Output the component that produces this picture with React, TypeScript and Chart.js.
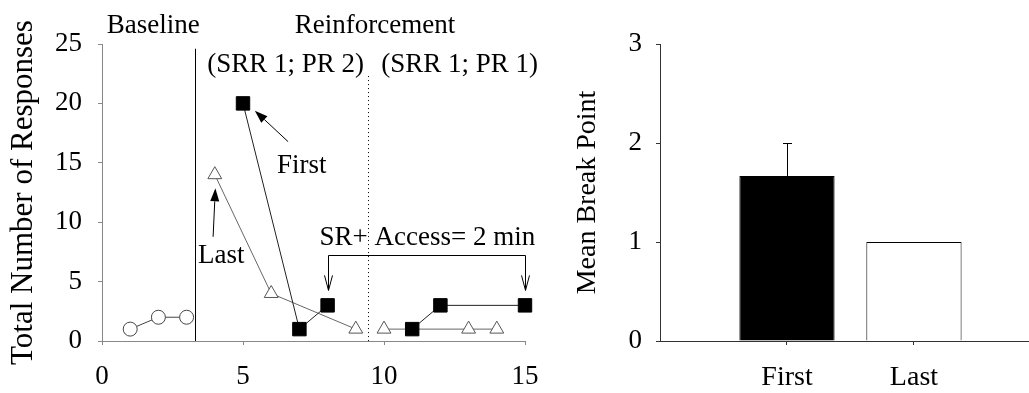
import React, { useEffect, useRef } from "react";
import { Chart, registerables } from "chart.js";

Chart.register(...registerables);

const FONT = "'Liberation Serif', 'Times New Roman', serif";

// ---- Left panel data ----
const xTickValues = [0, 5, 10, 15];
const yTickValues = [0, 5, 10, 15, 20, 25];
const baselineSessions = [1, 2, 3];
const baselineResponses = [1, 2, 2];
const firstSessions = [5, 7, 8, 11, 12, 15];
const firstResponses = [20, 1, 3, 1, 3, 3];
const lastSessions = [4, 6, 9, 10, 13, 14];
const lastResponses = [14, 4, 1, 1, 1, 1];
const phaseBaselineEnd = 3.31;
const phasePR2End = 9.44;

// ---- Right panel data ----
const barCategories = ["First", "Last"];
const barMeans = [1.667, 1.0];
const barErrors = [0.333, 0];
const barFill = ["#000000", "#ffffff"];
const barTickValues = [0, 1, 2, 3];

function pts(xs: number[], ys: number[], lo: number, hi: number) {
  return xs
    .map((x, i) => ({ x, y: ys[i] }))
    .filter((p) => p.x > lo && p.x < hi);
}

function filledArrow(ctx: CanvasRenderingContext2D, x1: number, y1: number, x2: number, y2: number) {
  const ang = Math.atan2(y2 - y1, x2 - x1);
  const head = 13;
  const hw = 4.5;
  const bx = x2 - head * Math.cos(ang);
  const by = y2 - head * Math.sin(ang);
  ctx.beginPath();
  ctx.moveTo(x1, y1);
  ctx.lineTo(bx, by);
  ctx.stroke();
  ctx.beginPath();
  ctx.moveTo(x2, y2);
  ctx.lineTo(bx + hw * Math.sin(ang), by - hw * Math.cos(ang));
  ctx.lineTo(bx - hw * Math.sin(ang), by + hw * Math.cos(ang));
  ctx.closePath();
  ctx.fill();
}

function openDownArrow(ctx: CanvasRenderingContext2D, x: number, y: number) {
  ctx.beginPath();
  ctx.moveTo(x - 4, y - 15);
  ctx.lineTo(x, y);
  ctx.lineTo(x + 4, y - 15);
  ctx.stroke();
}

const leftAnnotations = {
  id: "leftAnnotations",
  beforeDatasetsDraw(chart: any) {
    const { ctx, scales, chartArea } = chart;
    const x = scales.x;
    const y = scales.y;
    ctx.save();
    ctx.strokeStyle = "#000";
    ctx.lineWidth = 1;
    const sx = Math.round(x.getPixelForValue(phaseBaselineEnd)) + 0.5;
    ctx.beginPath();
    ctx.moveTo(sx, y.getPixelForValue(24.6));
    ctx.lineTo(sx, chartArea.bottom);
    ctx.stroke();
    const dx = Math.round(x.getPixelForValue(phasePR2End)) + 0.5;
    ctx.setLineDash([1, 3]);
    ctx.beginPath();
    ctx.moveTo(dx, y.getPixelForValue(22.3));
    ctx.lineTo(dx, chartArea.bottom);
    ctx.stroke();
    ctx.restore();
  },
  afterDatasetsDraw(chart: any) {
    const { ctx, scales, chartArea } = chart;
    const x = scales.x;
    const y = scales.y;
    const X = (v: number) => x.getPixelForValue(v);
    const Y = (v: number) => y.getPixelForValue(v);
    ctx.save();
    ctx.fillStyle = "#000";
    ctx.strokeStyle = "#000";
    ctx.lineWidth = 1;
    ctx.textAlign = "center";
    ctx.textBaseline = "alphabetic";
    ctx.font = `27px ${FONT}`;
    ctx.fillText("Baseline", X(1.82), chartArea.top - 11);
    ctx.fillText("Reinforcement", X(9.68), chartArea.top - 11);
    ctx.fillText("(SRR 1; PR 2)", X(6.51), chartArea.top + 28);
    ctx.fillText("(SRR 1; PR 1)", X(12.68), chartArea.top + 28);
    ctx.fillText("First", X(7.08), Y(14.13));
    ctx.fillText("Last", X(4.23), Y(6.58));
    ctx.fillText("SR+ Access= 2 min", X(11.54), Y(8.07));

    filledArrow(ctx, X(6.6), Y(16.78), X(5.42), Y(19.39));
    filledArrow(ctx, X(3.94), Y(8.77), X(4.02), Y(12.85));

    // bracket
    const by = Math.round(Y(7.23)) + 0.5;
    const bx1 = Math.round(X(8)) + 0.5;
    const bx2 = Math.round(X(15)) + 0.5;
    const tipY = Y(4.26);
    ctx.beginPath();
    ctx.moveTo(bx1, tipY);
    ctx.lineTo(bx1, by);
    ctx.lineTo(bx2, by);
    ctx.lineTo(bx2, tipY);
    ctx.stroke();
    openDownArrow(ctx, bx1, tipY);
    openDownArrow(ctx, bx2, tipY);
    ctx.restore();
  },
};

const errorBars = {
  id: "errorBars",
  afterDatasetsDraw(chart: any) {
    const { ctx, scales } = chart;
    const meta = chart.getDatasetMeta(0);
    ctx.save();
    ctx.strokeStyle = "#000";
    ctx.lineWidth = 1;
    meta.data.forEach((bar: any, i: number) => {
      if (!barErrors[i]) return;
      const cx = Math.round(bar.x) + 0.5;
      const top = Math.round(scales.y.getPixelForValue(barMeans[i] + barErrors[i])) + 0.5;
      ctx.beginPath();
      ctx.moveTo(cx, bar.y);
      ctx.lineTo(cx, top);
      ctx.moveTo(cx - 4.5, top);
      ctx.lineTo(cx + 4.5, top);
      ctx.stroke();
    });
    ctx.restore();
  },
};

export default function App() {
  const leftRef = useRef<HTMLCanvasElement>(null);
  const rightRef = useRef<HTMLCanvasElement>(null);

  useEffect(() => {
    const firstStyle = {
      pointStyle: "rect",
      pointRadius: 9.5,
      pointHoverRadius: 9.5,
      pointBackgroundColor: "#000",
      pointBorderColor: "#000",
      pointBorderWidth: 1,
      borderColor: "#222",
      borderWidth: 1,
      showLine: true,
      clip: false,
    };
    const lastStyle = {
      pointStyle: "triangle",
      pointRadius: 8,
      pointHoverRadius: 8,
      pointBackgroundColor: "#fff",
      pointBorderColor: "#555",
      pointBorderWidth: 1,
      borderColor: "#666",
      borderWidth: 1,
      showLine: true,
      clip: false,
    };
    const baseStyle = {
      pointStyle: "circle",
      pointRadius: 7,
      pointHoverRadius: 7,
      pointBackgroundColor: "#fff",
      pointBorderColor: "#444",
      pointBorderWidth: 1,
      borderColor: "#444",
      borderWidth: 1,
      showLine: true,
      clip: false,
    };

    const axisColor = "#888";
    const left = new Chart(leftRef.current!, {
      type: "scatter",
      data: {
        datasets: [
          { label: "First (PR 2)", data: pts(firstSessions, firstResponses, phaseBaselineEnd, phasePR2End), ...firstStyle },
          { label: "First (PR 1)", data: pts(firstSessions, firstResponses, phasePR2End, Infinity), ...firstStyle },
          { label: "Last (PR 2)", data: pts(lastSessions, lastResponses, phaseBaselineEnd, phasePR2End), ...lastStyle },
          { label: "Last (PR 1)", data: pts(lastSessions, lastResponses, phasePR2End, Infinity), ...lastStyle },
          { label: "Baseline", data: pts(baselineSessions, baselineResponses, -Infinity, phaseBaselineEnd), ...baseStyle },
        ] as any,
      },
      options: {
        responsive: false,
        animation: false,
        layout: { padding: { top: 44, right: 35, left: 0, bottom: 0 } },
        plugins: { legend: { display: false }, tooltip: { enabled: false } },
        scales: {
          x: {
            type: "linear",
            min: 0,
            max: 15,
            afterBuildTicks: (s: any) => {
              s.ticks = xTickValues.map((v) => ({ value: v }));
            },
            afterFit: (s: any) => {
              s.height = 52;
            },
            grid: { drawOnChartArea: false, drawTicks: true, tickLength: 4, color: axisColor },
            border: { color: axisColor, width: 1 },
            ticks: { font: { family: FONT, size: 27 }, color: "#000", padding: 16, maxRotation: 0 },
          },
          y: {
            type: "linear",
            min: 0,
            max: 25,
            afterBuildTicks: (s: any) => {
              s.ticks = yTickValues.map((v) => ({ value: v }));
            },
            afterFit: (s: any) => {
              s.width = 102;
            },
            grid: { drawOnChartArea: false, drawTicks: true, tickLength: 4, color: axisColor },
            border: { color: axisColor, width: 1 },
            ticks: { font: { family: FONT, size: 27 }, color: "#000", padding: 16 },
            title: {
              display: true,
              text: "Total Number of Responses",
              font: { family: FONT, size: 31 },
              color: "#000",
              padding: { top: 5, bottom: 0 },
            },
          },
        },
      } as any,
      plugins: [leftAnnotations],
    });

    const right = new Chart(rightRef.current!, {
      type: "bar",
      data: {
        datasets: [
          {
            label: "Mean Break Point",
            data: barCategories.map((c, i) => ({ x: i + 1, y: barMeans[i] })),
            backgroundColor: barFill,
            borderColor: "#000",
            borderWidth: 1,
            barPercentage: 0.75,
            categoryPercentage: 1,
          },
        ] as any,
      },
      options: {
        responsive: false,
        animation: false,
        layout: { padding: { top: 44, right: 0, left: 0, bottom: 0 } },
        plugins: { legend: { display: false }, tooltip: { enabled: false } },
        scales: {
          x: {
            type: "linear",
            min: 0,
            max: 2.906,
            offset: false,
            afterBuildTicks: (s: any) => {
              s.ticks = barCategories.map((_, i) => ({ value: i + 1 }));
            },
            afterFit: (s: any) => {
              s.height = 52;
            },
            grid: { offset: false, drawOnChartArea: false, drawTicks: true, tickLength: 4, color: "#333" },
            border: { color: "#333", width: 1 },
            ticks: {
              font: { family: FONT, size: 28 },
              color: "#000",
              padding: 16,
              maxRotation: 0,
              callback: (v: any) => barCategories[Math.round(v) - 1] ?? "",
            },
          },
          y: {
            type: "linear",
            min: 0,
            max: 3,
            afterBuildTicks: (s: any) => {
              s.ticks = barTickValues.map((v) => ({ value: v }));
            },
            afterFit: (s: any) => {
              s.width = 100;
            },
            grid: { drawOnChartArea: false, drawTicks: true, tickLength: 4, color: "#333" },
            border: { color: "#333", width: 1 },
            ticks: { font: { family: FONT, size: 27 }, color: "#000", padding: 14 },
            title: {
              display: true,
              text: "Mean Break Point",
              font: { family: FONT, size: 28 },
              color: "#000",
              padding: { top: 11, bottom: 0 },
            },
          },
        },
      } as any,
      plugins: [errorBars],
    });

    return () => {
      left.destroy();
      right.destroy();
    };
  }, []);

  return (
    <div style={{ position: "absolute", left: 0, top: 0, width: 1029, height: 393, background: "#fff" }}>
      <canvas ref={leftRef} width={560} height={393} style={{ position: "absolute", left: 0, top: 0, width: 560, height: 393 }} />
      <canvas ref={rightRef} width={469} height={393} style={{ position: "absolute", left: 560, top: 0, width: 469, height: 393 }} />
    </div>
  );
}
